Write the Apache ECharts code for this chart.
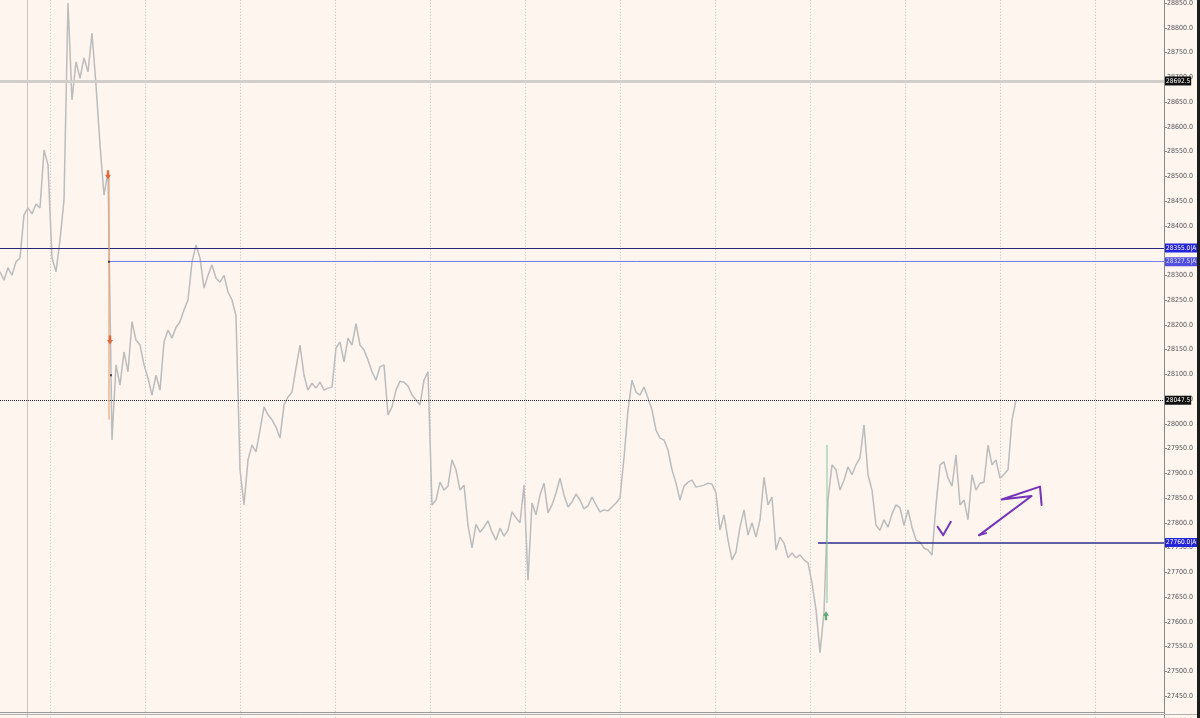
<!DOCTYPE html>
<html>
<head>
<meta charset="utf-8">
<script src="https://cdn.jsdelivr.net/npm/echarts@6/dist/echarts.min.js"></script>
<style>
html,body{margin:0;padding:0;background:#fdf5ee;}
#c{width:1200px;height:718px;}
</style>
</head>
<body>
<div id="c"></div>
<script>
// ---- data ----
const prices = [
 28307, 28290, 28315, 28300, 28327, 28335, 28422, 28436, 28424, 28444,
 28436, 28553, 28523, 28335, 28307, 28371, 28452, 28850, 28654, 28731,
 28698, 28739, 28711, 28789, 28684, 28563, 28462, 28509, 27967, 28119,
 28078, 28145, 28105, 28206, 28169, 28159, 28119, 28092, 28058, 28098,
 28068, 28165, 28189, 28173, 28195, 28206, 28230, 28250, 28327, 28361,
 28335, 28274, 28300, 28321, 28294, 28286, 28300, 28266, 28250, 28218,
 27907, 27836, 27927, 27957, 27943, 27987, 28034, 28018, 28008, 27993,
 27971, 28038, 28054, 28064, 28113, 28159, 28098, 28068, 28082, 28072,
 28084, 28068, 28072, 28074, 28153, 28165, 28125, 28173, 28159, 28202,
 28159, 28149, 28129, 28105, 28088, 28115, 28119, 28018, 28034, 28068,
 28086, 28084, 28076, 28058, 28048, 28038, 28088, 28105, 27836, 27846,
 27882, 27866, 27874, 27927, 27907, 27866, 27876, 27795, 27749, 27797,
 27781, 27791, 27804, 27781, 27765, 27789, 27773, 27785, 27822, 27810,
 27800, 27876, 27684, 27840, 27816, 27856, 27880, 27820, 27836, 27860,
 27890, 27856, 27832, 27842, 27858, 27846, 27828, 27834, 27852, 27836,
 27822, 27826, 27824, 27832, 27840, 27850, 27931, 28028, 28088, 28064,
 28058, 28074, 28052, 28028, 27987, 27971, 27967, 27947, 27907, 27880,
 27846, 27874, 27882, 27886, 27872, 27874, 27876, 27880, 27878, 27860,
 27785, 27816, 27765, 27725, 27741, 27791, 27826, 27775, 27800, 27771,
 27806, 27892, 27836, 27852, 27745, 27771, 27759, 27729, 27739, 27729,
 27735, 27725, 27719, 27678, 27624, 27537, 27620, 27846, 27917, 27907,
 27866, 27886, 27913, 27897, 27917, 27931, 27998, 27897, 27866, 27795,
 27785, 27806, 27791, 27818, 27836, 27830, 27795, 27826, 27791, 27765,
 27761, 27749, 27745, 27735, 27836, 27917, 27923, 27890, 27874, 27937,
 27836, 27846, 27806, 27897, 27866, 27880, 27882, 27957, 27917, 27927,
 27890, 27898, 27907, 28008, 28047.5
];
const barCount = 291;                 // bars that fit the visible time range
const sessionBreaks = [12.5, 36.25, 60, 83.75, 107.5, 131.25, 155, 178.75, 202.5, 226.25, 250, 273.75];
const dayBreak = 6.75;
const refLevel = 28692.5;
const lastPrice = 28047.5;
const pitLevels = [28355.0, 28327.5, 27760.0];
const pitStartBars = [0, 27.25, 204.5];
const sellSignals = [[27, 28503], [27.5, 28169]];
const buySignals = [[206.5, 27612]];
const sellTradeLine = [[27.25, 28503], [27.25, 28008]];
const buyTradeLine = [[206.75, 27638], [206.75, 27957]];
const fillDots = [[27.25, 28327.5], [27.75, 28098]];
const checkStroke = [[234.4, 27792], [235.8, 27775], [237.7, 27802]];
const arrowStroke = [[244.8, 27775], [257.9, 27854], [250.4, 27847], [260.0, 27873], [260.4, 27836]];
const arrowHook = [[244.8, 27775], [246.5, 27779]];
const yMin = 27400, yMax = 28900, yStep = 50;

// ---- chart ----
const FONT = '"DejaVu Sans Condensed","Liberation Sans",sans-serif';
const chart = echarts.init(document.getElementById('c'), null, {renderer: 'canvas'});

const boxLabel = (text, bg) => ({
  show: true, position: 'end', distance: 1, formatter: text,
  backgroundColor: bg, color: '#fff', fontSize: 6.5, fontFamily: FONT,
  padding: [1, 1, 0, 1], lineHeight: 8
});
const pitLabel = {
  show: true, position: 'insideEndTop', formatter: 'pit', color: '#2a2ad8',
  fontSize: 7, fontFamily: FONT, distance: 1
};

const option = {
  backgroundColor: '#fdf5ee',
  animation: false,
  grid: {left: 0, right: 36, top: -21.75, bottom: -2.75, containLabel: false, outerBoundsMode: 'none'},
  xAxis: {type: 'value', min: 0, max: barCount, show: false},
  yAxis: {
    type: 'value', position: 'right', min: yMin, max: yMax, interval: yStep,
    axisLine: {show: true, onZero: false, lineStyle: {color: '#8a8a8a', width: 1}},
    axisTick: {show: true, inside: false, length: 3, lineStyle: {color: '#8a8a8a'}},
    axisLabel: {color: '#555', fontSize: 7, fontFamily: FONT, margin: 3,
      formatter: v => v.toFixed(1)},
    splitLine: {show: false}
  },
  graphic: [
    {type: 'rect', shape: {x: 1197, y: 0, width: 3, height: 718}, style: {fill: '#1c1c1c'}, z: 100},
    {type: 'line', shape: {x1: 0, y1: 712.5, x2: 1164, y2: 712.5}, style: {stroke: '#9a9a9a', lineWidth: 1}, z: 100},
    {type: 'line', shape: {x1: 0, y1: 714.5, x2: 1197, y2: 714.5}, style: {stroke: '#b0b0b0', lineWidth: 1}, z: 100}
  ],
  series: [
    { // session separators
      type: 'line', data: [], silent: true,
      markLine: {
        symbol: 'none', silent: true, label: {show: false},
        lineStyle: {color: '#c4c0bc', type: [1, 2], width: 1},
        data: sessionBreaks.map(b => ({xAxis: b}))
          .concat([{xAxis: dayBreak, lineStyle: {type: 'solid', color: '#c8c4c0'}}])
      }
    },
    { // price
      type: 'line', name: 'price', showSymbol: false, silent: true,
      data: prices.map((v, i) => [i, v]),
      lineStyle: {color: '#bcbcbc', width: 1.5},
      z: 3
    },
    { // levels
      type: 'line', data: [], silent: true, z: 4,
      markLine: {
        symbol: 'none', silent: true,
        data: [
          {yAxis: refLevel, lineStyle: {color: '#d2ceca', width: 3, type: 'solid'}, label: boxLabel('28692.5', '#111')},
          {yAxis: lastPrice, lineStyle: {color: '#222', width: 1, type: [1, 1]}, label: boxLabel('28047.5', '#111')},
          [{coord: [pitStartBars[0], pitLevels[0]]}, {coord: [barCount, pitLevels[0]],
            lineStyle: {color: '#25257c', width: 1, type: 'solid'}, label: boxLabel('28355.0|A', '#2626d8')}],
          [{coord: [pitStartBars[0], pitLevels[0]]}, {coord: [barCount, pitLevels[0]],
            lineStyle: {opacity: 0}, label: pitLabel}],
          [{coord: [pitStartBars[1], pitLevels[1]]}, {coord: [barCount, pitLevels[1]],
            lineStyle: {color: '#5c5cf2', width: 1, type: 'solid', opacity: 0.8}, label: boxLabel('28327.5|A', '#2626d8')}],
          [{coord: [pitStartBars[1], pitLevels[1]]}, {coord: [barCount, pitLevels[1]],
            lineStyle: {opacity: 0}, label: pitLabel}],
          [{coord: [pitStartBars[2], pitLevels[2]]}, {coord: [barCount, pitLevels[2]],
            lineStyle: {color: '#2c2c8c', width: 1.5, type: 'solid'}, label: boxLabel('27760.0|A', '#2626d8')}],
          [{coord: [pitStartBars[2], pitLevels[2]]}, {coord: [barCount, pitLevels[2]],
            lineStyle: {opacity: 0}, label: pitLabel}]
        ]
      }
    },
    {type: 'line', data: sellTradeLine, showSymbol: false, silent: true, z: 5,
      lineStyle: {color: '#eda47a', width: 1.2}},
    {type: 'line', data: buyTradeLine, showSymbol: false, silent: true, z: 5,
      lineStyle: {color: '#86c79c', width: 1}},
    {type: 'scatter', data: sellSignals, silent: true, z: 6,
      symbol: 'path://M3,0 L7,0 L7,6 L10,6 L5,12 L0,6 L3,6 Z', symbolSize: [6, 9],
      itemStyle: {color: '#e2531e'}},
    {type: 'scatter', data: buySignals, silent: true, z: 6,
      symbol: 'path://M3,12 L7,12 L7,6 L10,6 L5,0 L0,6 L3,6 Z', symbolSize: [6, 9],
      itemStyle: {color: '#3a9a5a'}},
    {type: 'scatter', data: fillDots, silent: true, z: 6, symbol: 'rect', symbolSize: 2,
      itemStyle: {color: '#222'}},
    {type: 'line', data: checkStroke, showSymbol: false, silent: true, z: 7,
      lineStyle: {color: '#7434b8', width: 2, cap: 'round', join: 'round'}},
    {type: 'line', data: arrowStroke, showSymbol: false, silent: true, z: 7,
      lineStyle: {color: '#7434b8', width: 2, cap: 'round', join: 'round'}},
    {type: 'line', data: arrowHook, showSymbol: false, silent: true, z: 7,
      lineStyle: {color: '#7434b8', width: 2, cap: 'round'}}
  ]
};
chart.setOption(option);
</script>
</body>
</html>
